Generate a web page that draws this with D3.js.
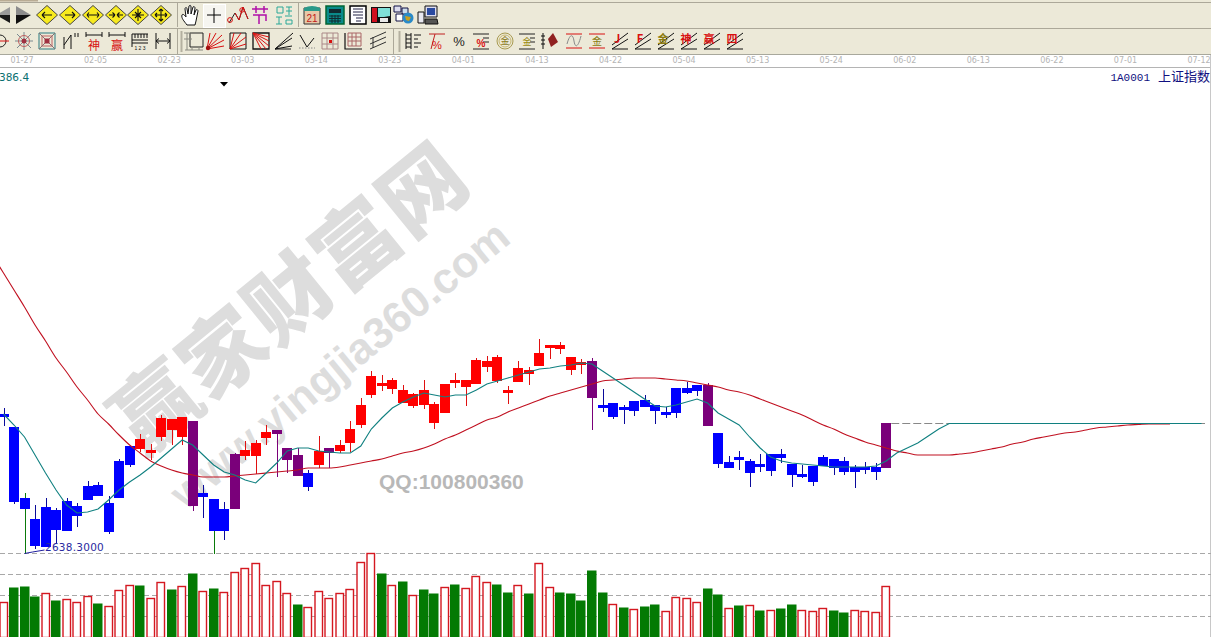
<!DOCTYPE html>
<html><head><meta charset="utf-8">
<script src="https://cdnjs.cloudflare.com/ajax/libs/d3/7.8.5/d3.min.js"></script>
<style>html,body{margin:0;padding:0;background:#fff;overflow:hidden}svg{display:block}</style>
</head><body><svg id="c" width="1211" height="637"></svg>
<script>
// ---------- data ----------
const tickLabels=["01-27","02-05","02-23","03-03","03-14","03-23","04-01","04-13","04-22","05-04","05-13","05-24","06-02","06-13","06-22","07-01","07-12"];
// b blue, g blue with green wick, r red, p highlighted purple
const kinds="bbgbbbbbbbbbbrrrrrpbgbprrrpppbrprrrrrrrrrrrrrrrrrrrrrrrrpbbbbbbbbbbpbbbbbbbbbbbbbbbbp".split("");
const bodyTop=[2914,2888,2746,2704,2728,2722,2740,2730,2770,2772,
2736,2820,2850,2864,2842,2906,2904,2908,2900,2756,
2744,2724,2834,2842,2856,2878,2882,2846,2832,2796,
2840,2846,2852,2884,2932,2990,2976,2982,2962,2954,
2962,2934,2974,2982,2982,3022,3020,3028,2962,3006,
3002,3036,3052,3052,3028,3018,3020,2932,2936,2928,
2940,2942,2932,2918,2966,2966,2972,2972,2876,2818,
2828,2820,2814,2834,2834,2814,2794,2810,2828,2824,
2820,2808,2808,2808,2896];
const bodyBottom=[2910,2740,2726,2652,2650,2684,2682,2712,2744,2752,
2680,2748,2814,2846,2838,2870,2884,2870,2732,2750,
2682,2682,2726,2832,2832,2868,2876,2824,2792,2770,
2814,2838,2842,2858,2894,2954,2972,2966,2938,2932,
2934,2898,2918,2978,2970,2976,3010,2982,2958,2980,
2996,3012,3048,3046,3004,3014,2948,2928,2910,2924,
2922,2930,2922,2914,2918,2958,2962,2892,2816,2808,
2824,2798,2810,2802,2828,2794,2790,2780,2812,2808,
2800,2800,2804,2800,2808];
const high=[2926,2888,2756,2732,2746,2726,2746,2736,2780,2778,
2750,2824,2850,2874,2854,2912,2904,2908,2900,2772,
2744,2738,2836,2860,2862,2892,2882,2846,2846,2802,
2870,2846,2862,2900,2946,3000,2992,2986,2972,2956,
2982,2938,2974,2996,2982,3026,3030,3032,2970,3020,
3008,3064,3052,3058,3028,3024,3026,2964,2936,2932,
2940,2952,2932,2928,2966,2978,2972,2976,2876,2830,
2840,2824,2834,2834,2844,2814,2812,2810,2832,2824,
2828,2812,2818,2816,2896];
const low=[2892,2736,2636,2646,2650,2656,2682,2690,2744,2752,
2676,2748,2810,2840,2824,2862,2854,2854,2722,2708,
2636,2664,2726,2824,2796,2854,2790,2798,2792,2762,
2808,2808,2838,2840,2888,2948,2962,2956,2938,2928,
2926,2886,2918,2968,2932,2976,3000,2978,2936,2980,
2974,3012,3026,3036,2994,2996,2884,2920,2906,2896,
2912,2930,2896,2908,2908,2956,2952,2892,2808,2808,
2804,2770,2800,2792,2818,2770,2788,2772,2812,2794,
2794,2768,2796,2784,2808];
const volume=[35,50,51,41,44,37,38,35,41,34,
31,47,52,52,39,55,48,51,64,46,
49,45,65,69,74,52,56,44,33,30,
46,39,44,48,75,84,64,52,56,42,
48,44,50,53,49,61,55,53,45,52,
44,74,50,45,44,37,67,45,33,30,
28,31,33,26,40,39,35,49,43,29,
32,32,27,27,29,33,27,26,29,27,
25,27,26,25,51];
const volumeUp=[1,0,0,0,1,0,1,1,1,0,
1,1,1,0,1,1,0,1,0,1,
0,1,1,1,1,1,1,1,0,1,
1,1,1,1,1,1,0,1,0,1,
0,0,1,0,1,1,1,0,0,1,
0,1,1,0,0,0,0,0,1,0,
1,0,0,1,1,1,1,0,0,1,
0,1,0,1,0,0,1,1,1,0,
0,1,1,1,1];
const longAvgStart=-1;
const longAvg=[3230,
3196,3162,3128,3092,3060,3026,2998,2968,2942,2914,
2894,2872,2852,2836,2820,2810,2802,2796,2792,2788,
2788,2788,2790,2792,2794,2796,2798,2800,2802,2806,
2806,2806,2808,2812,2816,2820,2824,2830,2836,2840,
2846,2854,2864,2872,2882,2892,2902,2908,2918,2926,
2934,2942,2950,2956,2962,2968,2974,2980,2982,2984,
2986,2986,2986,2984,2982,2980,2976,2972,2968,2962,
2958,2952,2944,2936,2928,2920,2912,2902,2892,2884,
2874,2866,2858,2852,2846,2840,2836,2832,2832,2832,
2832,2834,2836,2840,2844,2848,2854,2858,2864,2868,
2872,2876,2878,2882,2886,2888,2890,2892,2893,2894,2894,2894];
const shortAvg=[2914,2892,2868,2832,2796,2762,2732,2716,2718,2724,
2742,2762,2778,2792,2808,2826,2844,2862,2852,2832,
2812,2798,2792,2782,2776,2796,2816,2840,2846,2846,
2840,2838,2836,2836,2850,2884,2906,2926,2938,2948,
2956,2952,2948,2952,2952,2962,2974,2980,2986,2992,
2998,3004,3006,3010,3012,3016,3014,3000,2986,2972,
2958,2944,2930,2928,2932,2938,2944,2936,2916,2904,
2892,2868,2846,2828,2820,2816,2814,2812,2810,2808,
2808,2808,2808,2810,2820,2836,2846,2856,2870,2884,
2895,2895,2895,2895,2895,2895,2895,2895,2895,2895,
2895,2895,2895,2895,2895,2895,2895,2895,2895,2895,
2895,2895,2895,2895,2895];
const volumeGrid=[21,42,63,84];
const lastClose=2896;
const lowLabel="2638.3000";

// ---------- scales ----------
const svg=d3.select("#c");
const X=d3.scaleLinear().domain([0,114]).range([3.5,1201.5]);
const Y=d3.scaleLinear().domain([2638,3606]).range([552,68]);
const V=d3.scaleLinear().domain([0,84]).range([637,553]);
const cx=i=>Math.round(X(i));
const snap=v=>Math.round(v);

// ---------- toolbars ----------
const bar=svg.append("g");
bar.append("rect").attr("width",1211).attr("height",55).attr("fill","#ece9d8");
bar.append("rect").attr("width",38).attr("height",1.5).attr("fill","#b9ac94");
[[2.5,"#aca899"],[28.5,"#aca899"],[54.5,"#a8a89c"],[67.5,"#b4b4b4"]].forEach(([y,c])=>
  bar.append("line").attr("x1",0).attr("x2",1211).attr("y1",y).attr("y2",y).attr("stroke",c));
bar.append("rect").attr("y",55).attr("width",1211).attr("height",12).attr("fill","#fff");
[[177.5,3,27],[298.5,3,27],[177.5,29,54],[393.5,29,54]].forEach(([x,a,b])=>
  bar.append("line").attr("x1",x).attr("x2",x).attr("y1",a).attr("y2",b).attr("stroke","#aca899"));
[[181.5,31,52],[399.5,31,52]].forEach(([x,a,b])=>
  bar.append("line").attr("x1",x).attr("x2",x).attr("y1",a).attr("y2",b).attr("stroke","#b4b0a0").attr("stroke-width",2));

const P=(g,d,s,f,w)=>g.append("path").attr("d",d).attr("fill",f||"none").attr("stroke",s||"none").attr("stroke-width",w||1);
const T=(g,t,c,sz,dy,fam,wt)=>g.append("text").text(t).attr("text-anchor","middle").attr("y",dy||0).attr("fill",c)
  .attr("font-size",sz).attr("font-weight",wt||"normal").attr("font-family",fam||"'Noto Sans CJK SC'");
const diamond=(g,a)=>{P(g,"M0,-9.5L10.5,0L0,9.5L-10.5,0Z","#444","#f7ea1e",1);P(g,a,"#111",null,1.1);};
const red="#d81010";
const icons={
 prev:g=>{P(g,"M7,-8L-7,0H7Z",null,"#9a9a9a");P(g,"M7,8L-7,0H7Z",null,"#1a1a1a");},
 next:g=>{P(g,"M-7,-9L8,0H-7Z",null,"#8c8c8c");P(g,"M-7,9L8,0H-7Z",null,"#111");},
 d1:g=>diamond(g,"M5,0H-5M-5,0L-2,-3M-5,0L-2,3"),
 d2:g=>diamond(g,"M-5,0H5M5,0L2,-3M5,0L2,3"),
 d3:g=>diamond(g,"M-6,0H6M-6,0L-4,-2.5M-6,0L-4,2.5M6,0L4,-2.5M6,0L4,2.5"),
 d4:g=>diamond(g,"M-7,0H-1M-1,0L-3.5,-2.5M-1,0L-3.5,2.5M7,0H1M1,0L3.5,-2.5M1,0L3.5,2.5"),
 d5:g=>diamond(g,"M-6,0H6M0,-6V6M-3,-3L3,3M3,-3L-3,3"),
 d6:g=>diamond(g,"M-6,0H6M0,-6V6M-6,0L-4,-2M-6,0L-4,2M6,0L4,-2M6,0L4,2M0,-6L-2,-4M0,-6L2,-4M0,6L-2,4M0,6L2,4"),
 hand:g=>P(g,"M-3,10C-6,6 -9,3 -8,0C-7,-2 -5,1 -4,2L-5,-6C-5,-8 -3,-8 -3,-6L-2,-1L-1,-9C0,-10 1,-10 1,-8L1,-1L3,-8C4,-9 5,-8 5,-7L4,0L6,-5C7,-6 8,-5 8,-4L6,6L5,10Z","#111","#fff",1),
 cross:g=>{g.append("rect").attr("x",-10.5).attr("y",-10.5).attr("width",22).attr("height",23).attr("fill","#f6f5f0").attr("stroke","#fff");P(g,"M-7,0H7M0,-7V8","#000",null,1);},
 zig:g=>{P(g,"M-8,8L-2,-2L2,5L6,-8L11,4","#222",null,1);P(g,"M-2,-2L2,5L6,-8L11,4",red,null,1);g.append("circle").attr("cx",-7).attr("cy",5).attr("r",2.4).attr("fill","none").attr("stroke",red);g.append("circle").attr("cx",5).attr("cy",-5).attr("r",2.2).attr("fill","none").attr("stroke",red);},
 jie:g=>P(g,"M-8,-6H8M-4,-9V-2M4,-9V-2M-7,0H6V6M-1,0V9","#b010a8",null,1.5),
 lu:g=>P(g,"M-7,-8H-1V-2H-7ZM-8,2H-2M-5,2V9M-8,9H-2M2,-8H8M2,-4H8M5,-8V0M1,1L8,1M2,5H8V9H2Z","#2aa898",null,1),
 cal:g=>{P(g,"M-8,-7H8V9H-8Z","#333","#e8c8a8",1);P(g,"M-8,-7Q0,-11 8,-7V-4H-8Z",null,"#2a9a8a");T(g,"21","#c01818",10,7,"'Liberation Sans'");},
 calc:g=>{P(g,"M-9,-9H9V9H-9Z","#063","#0a8a8a",1.5);P(g,"M-6,-6H6V-2H-6Z",null,"#102a30");P(g,"M-6,1H6M-6,3.5H6M-6,6H6M-3,0V8M0,0V8M3,0V8","#102a30",null,1);},
 note:g=>{P(g,"M-8,-9H8V9H-8Z","#000","#fff",1.5);P(g,"M-5,-6H5M-5,-3H5M-5,0H5M-2,3H5M-2,6H3","#224",null,1);},
 disk:g=>{P(g,"M-10,-8H10V8H-10Z",null,"#111");P(g,"M-9,-7H-4V7H-9Z",null,"#d01020");P(g,"M-3,-7H9V1L3,2H-3Z",null,"#7fe0d8");P(g,"M-1,3H7V7H-1Z",null,"#e8e8e8");},
 globe:g=>{P(g,"M-10,-9H-3V-3H-10Z","#114","#dde");P(g,"M-2,-7H4V-1H-2Z","#114","#cde");P(g,"M-8,-1H-1V6H-8Z","#114","#fff");g.append("circle").attr("cx",4).attr("cy",3).attr("r",5.5).attr("fill","#2a8ac8");P(g,"M1,1L7,2L5,6L2,5Z",null,"#c8a020");},
 pc:g=>{P(g,"M-2,-9H10V2H-2Z","#111","#dde");P(g,"M0,-7H8V0H0Z",null,"#2a4aa0");P(g,"M-9,-3H-3V8H-9Z","#111","#e8e8f0");P(g,"M-2,4H10L11,9H-2Z","#111","#555");},
 scope:g=>{g.append("circle").attr("r",6).attr("fill","none").attr("stroke","#222");P(g,"M-8,0H9",red,null,1);},
 web:g=>{P(g,"M-7,-7L7,7M7,-7L-7,7M0,-9V9M-9,0H9","#7a8a90",null,1);g.append("circle").attr("r",5.5).attr("fill","none").attr("stroke","#c06060");g.append("circle").attr("r",2.5).attr("fill","#a03040");},
 sweb:g=>{P(g,"M-8,-8H8V8H-8Z","#2a7a80");P(g,"M-5,-5H5V5H-5Z","#c06060");P(g,"M-8,-8L8,8M8,-8L-8,8","#8a7070");P(g,"M-2.5,-2.5H2.5V2.5H-2.5Z",null,"#a03040");},
 nn:g=>P(g,"M-7,8V-4M-7,4L0,-6V8M4,-8V-4M7,-8V-4","#111",null,1),
 shen:g=>{P(g,"M-8,-9V-4M8,-9V-4M-8,-6H8","#111",null,1);T(g,"神",red,12,9);},
 ying:g=>{P(g,"M-8,-9V-4M8,-9V-4M-8,-6H8","#111",null,1);T(g,"赢",red,12,9);},
 rule:g=>{P(g,"M-8,-7H8M-8,-7V6M-5,-7V-3M-2,-7V-3M1,-7V-3M4,-7V-3M7,-7V-3M-8,-1H8M-8,2H8","#111");T(g,"1 2 3","#111",5,9,"'Liberation Sans'");},
 span:g=>P(g,"M-7,-8V8M7,-8V8M-7,0H7M-7,0L-4,-2.5M-7,0L-4,2.5M7,0L4,-2.5M7,0L4,2.5","#111",null,1),
 box:g=>{P(g,"M-4,-8H9V6H-4Z","#222",null,1);P(g,"M-10,-8H-2M-10,-2H-2M-7,-8V9M-9,9H9M-2,6V9M5,6V9","#8a8a80");},
 fan:g=>{P(g,"M-8,8L-5,-8M-8,8L1,-8M-8,8L7,-6M-8,8L9,-1M-8,8L9,5",red,null,1);g.append("circle").attr("cx",-7).attr("cy",7).attr("r",2.2).attr("fill","#a01010");},
 fanbox:g=>{P(g,"M-8,-8H8V8H-8Z","#111",null,1);P(g,"M-8,8L-4,-8M-8,8L3,-8M-8,8L8,-4M-8,8L8,3",red,null,1);},
 fanbox2:g=>{P(g,"M-8,-8H8V8H-8Z","#111",null,1.3);P(g,"M-8,-8L0,8M-8,-8L5,8M-8,-8L8,5M-8,-8L8,0M-8,-8L8,-4",red,null,1);},
 rays:g=>P(g,"M-9,8L9,-8M-9,8L8,-3M-9,8L8,5M-9,8H7","#111",null,1),
 vee:g=>{P(g,"M-7,-6L0,6L7,-3","#111",null,1);P(g,"M-8,7H8","#888",null,1).attr("stroke-dasharray","1.5,1.5");},
 gridp:g=>{P(g,"M-8,-8H8V8H-8ZM-8,-3H8M-8,3H8M-3,-8V8M3,-8V8","#a88");P(g,"M-1,-1H2V2H-1Z",null,red);},
 gridb:g=>{P(g,"M-8,-8V8H9","#111",null,1.2);P(g,"M-5,-8H8V5H-5ZM-5,-4H8M-5,0H8M-1,-8V5M3,-8V5","#a66");},
 para:g=>P(g,"M-8,-2L8,-9M-8,3L8,-4M-8,8L8,1M-5,-4V7","#333",null,1),
 table:g=>{P(g,"M-7,-8V8M-2,-8V8M-7,-6H-2M-7,-2H-2M-7,2H-2M-7,6H-2M1,-6H8M1,-2H5M1,2H8M1,6H5","#111",null,1);},
 pct:g=>{P(g,"M-8,-7H8M-6,8L-2,-7","#c02020",null,1);T(g,"%",red,11,8,"'Liberation Sans'");},
 pctp:g=>T(g,"%","#222",13,5,"'Liberation Sans'"),
 pctl:g=>{P(g,"M-8,-7H8M2,-3H8M2,1H8M-8,8H8","#222",null,1);T(g,"%",red,10,6,"'Liberation Sans'","bold");},
 jinc:g=>{g.append("circle").attr("r",8).attr("fill","none").attr("stroke","#a89a50");g.append("circle").attr("r",6).attr("fill","none").attr("stroke","#c8b870");T(g,"金","#8a7a20",9,3);},
 jinl:g=>{P(g,"M-8,-7H8M3,-3H8M3,1H8M-8,8H8","#222",null,1);T(g,"金","#9a8a10",9,4);},
 tool:g=>{P(g,"M-8,-8V8M-10,-5H-6M-10,-1H-6M-10,3H-6","#111",null,1);P(g,"M-3,-2L2,-8L7,1L0,6Z",null,"#902020");},
 wave:g=>{P(g,"M-8,-7H8M-8,7H8",red,null,1);P(g,"M-7,3C-4,-8 -1,-7 0,0S4,7 7,-5","#888");},
 jinr:g=>{P(g,"M-8,-7H8M-8,7H8",red,null,1);T(g,"金","#8a7a10",10,4);},
 ang:(g,t,c)=>{P(g,"M-8,8L8,-2M-8,8H8M-8,4L8,-8","#111",null,1);T(g,t,c,11,2,"'Noto Sans CJK SC'","bold").attr("x",-3);}
};
const row1=[["prev",3],["next",23],["d1",47],["d2",70],["d3",93],["d4",116],["d5",138],["d6",161],["hand",190],["cross",214],["zig",237],["jie",260],["lu",284],["cal",312],["calc",335],["note",358],["disk",381],["globe",404],["pc",427]];
const row2=[["scope",0],["web",24],["sweb",47],["nn",71],["shen",94],["ying",117],["rule",140],["span",163],["box",194],["fan",215],["fanbox",238],["fanbox2",261],["rays",284],["vee",307],["gridp",330],["gridb",353],["para",378],["table",413],["pct",437],["pctp",459],["pctl",481],["jinc",505],["jinl",527],["tool",551],["wave",574],["jinr",597],
 ["ang",620,"J",red],["ang",643,"F",red],["ang",666,"金","#8a7a10"],["ang",689,"神",red],["ang",712,"赢",red],["ang",735,"四",red]];
[[row1,15],[row2,41]].forEach(([row,y])=>row.forEach(r=>{
  const g=bar.append("g").attr("transform",`translate(${r[1]},${y})`);
  icons[r[0]](g,r[2],r[3]);
}));

// ---------- date axis strip ----------
const axis=d3.axisBottom(X).tickValues(tickLabels.map((d,i)=>2+7*i)).tickFormat((d,i)=>tickLabels[i]).tickSize(0).tickPadding(0);
const ax=svg.append("g").attr("transform","translate(-3,57)").call(axis);
ax.select(".domain").remove();
ax.selectAll("text").attr("fill","#b4b4b4").attr("font-size",8).attr("font-family","'DejaVu Sans'").attr("dy","0.72em");

// ---------- watermark ----------
const wm=svg.append("g");
wm.append("text").text("赢家财富网").attr("transform","translate(290,298) rotate(-39.2)")
 .attr("text-anchor","middle").attr("dy","0.36em").attr("font-size",84).attr("letter-spacing",2)
 .attr("font-weight",900).attr("font-family","'Noto Sans CJK SC'").attr("fill","#dddddd");
wm.append("text").text("www.yingjia360.com").attr("transform","translate(339,364) rotate(-39.5)")
 .attr("text-anchor","middle").attr("dy","0.36em").attr("font-size",43.5)
 .attr("font-weight",700).attr("font-family","'Liberation Sans'").attr("fill","#dddddd");
wm.append("text").text("QQ:100800360").attr("x",379).attr("y",489).attr("font-size",21)
 .attr("font-weight",700).attr("font-family","'Liberation Sans'").attr("fill","#b8b8b8");

// ---------- header texts ----------
svg.append("text").text("386.4").attr("x",-1).attr("y",81).attr("font-size",10.5).attr("font-family","'DejaVu Sans'").attr("fill","#0a7070");
svg.append("path").attr("d","M220,82H228L224,86.5Z").attr("fill","#000");
const code=svg.append("text").attr("x",1210).attr("y",81).attr("text-anchor","end").attr("fill","#101080");
code.append("tspan").text("1A0001").attr("font-family","'Liberation Mono'").attr("font-size",11);
code.append("tspan").text("上证指数").attr("dx",8).attr("font-family","'Noto Sans CJK SC'").attr("font-size",13);
svg.append("line").attr("x1",1210.5).attr("x2",1210.5).attr("y1",55).attr("y2",637).attr("stroke","#c8c8c8");

// ---------- volume grid + bars ----------
svg.append("g").selectAll("line").data(volumeGrid).join("line")
 .attr("x1",0).attr("x2",1211).attr("y1",d=>snap(V(d))+.5).attr("y2",d=>snap(V(d))+.5)
 .attr("stroke","#a8a8a8").attr("stroke-dasharray","5,3");
svg.append("g").selectAll("rect").data(volume).join("rect")
 .attr("x",(d,i)=>cx(i)-(volumeUp[i]?4:5))
 .attr("y",d=>snap(V(d))+.5)
 .attr("width",(d,i)=>volumeUp[i]?7.5:9.5)
 .attr("height",d=>637-snap(V(d)))
 .attr("fill",(d,i)=>volumeUp[i]?"#fff":"#037a03")
 .attr("stroke",(d,i)=>volumeUp[i]?"#d41820":"none")
 .attr("stroke-width",1.4);

// ---------- last close dashed line ----------
svg.append("line").attr("x1",X(84)+5).attr("x2",1205).attr("y1",snap(Y(lastClose))+.5).attr("y2",snap(Y(lastClose))+.5)
 .attr("stroke","#888").attr("stroke-dasharray","8,3");

// ---------- candles ----------
const bodyCol={b:"#0000ff",g:"#0000ff",r:"#ff0000",p:"#7a007a"};
const wickCol={b:"#0a0a9a",g:"#0a7a0a",r:"#e01010",p:"#7a007a"};
const cg=svg.append("g").attr("shape-rendering","crispEdges");
cg.selectAll("line").data(kinds).join("line")
 .attr("x1",(k,i)=>cx(i)+.5).attr("x2",(k,i)=>cx(i)+.5)
 .attr("y1",(k,i)=>snap(Y(high[i]))).attr("y2",(k,i)=>snap(Y(low[i]))+1)
 .attr("stroke",k=>wickCol[k]).attr("stroke-width",1);
cg.selectAll("rect").data(kinds).join("rect")
 .attr("x",(k,i)=>cx(i)-5).attr("width",10)
 .attr("y",(k,i)=>snap(Y(bodyTop[i])))
 .attr("height",(k,i)=>snap(Y(bodyBottom[i]))-snap(Y(bodyTop[i]))+1)
 .attr("fill",k=>bodyCol[k]);

// ---------- moving averages ----------
const lineLong=d3.line().x((d,i)=>X(i+longAvgStart)).y(d=>Y(d)).curve(d3.curveMonotoneX);
const lineShort=d3.line().x((d,i)=>X(i)).y(d=>Y(d));
svg.append("path").attr("d",lineLong(longAvg)).attr("fill","none").attr("stroke","#c01020").attr("stroke-width",1.1);
svg.append("path").attr("d",lineShort(shortAvg)).attr("fill","none").attr("stroke","#108080").attr("stroke-width",1.1);

// ---------- low marker ----------
svg.append("path").attr("d",`M${X(2)},${Y(low[2])+.5}L${X(2)+8},${Y(low[2])-1}L${X(2)+20},${Y(low[2])-3}`).attr("fill","none").attr("stroke","#2020a0");
svg.append("text").text(lowLabel).attr("x",45).attr("y",551).attr("font-size",10.5).attr("letter-spacing",.25).attr("font-family","'DejaVu Sans'").attr("fill","#2a2aa0");
</script></body></html>
